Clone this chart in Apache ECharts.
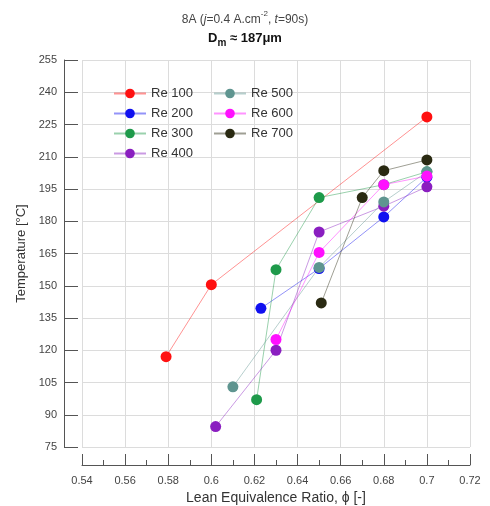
<!DOCTYPE html>
<html>
<head>
<meta charset="utf-8">
<script src="https://cdn.jsdelivr.net/npm/echarts@6/dist/echarts.min.js"></script>
<style>html,body{margin:0;padding:0;background:#fff;}#c{width:490px;height:506px;}</style>
</head>
<body>
<div id="c"></div>
<script>
// ---- data ----
const seriesNames = ['Re 100', 'Re 200', 'Re 300', 'Re 400', 'Re 500', 'Re 600', 'Re 700'];
const phi100 = [0.579, 0.600, 0.700];
const T100   = [117, 150.5, 228.5];
const phi200 = [0.623, 0.650, 0.680, 0.700];
const T200   = [139.5, 158, 182, 200.5];
const phi300 = [0.621, 0.630, 0.650, 0.680, 0.700];
const T300   = [97, 157.5, 191, 197, 203];
const phi400 = [0.602, 0.630, 0.650, 0.680, 0.700];
const T400   = [84.5, 120, 175, 187, 196];
const phi500 = [0.610, 0.650, 0.680, 0.700];
const T500   = [103, 158.5, 189, 203];
const phi600 = [0.630, 0.650, 0.680, 0.700];
const T600   = [125, 165.5, 197, 201];
const phi700 = [0.651, 0.670, 0.680, 0.700];
const T700   = [142, 191, 203.5, 208.5];
const xTicks = [0.54, 0.56, 0.58, 0.6, 0.62, 0.64, 0.66, 0.68, 0.7, 0.72];
const yTicks = [75, 90, 105, 120, 135, 150, 165, 180, 195, 210, 225, 240, 255];

const colors = ['#ff1010', '#1010f0', '#1e9a4a', '#8a1ec0', '#5f9590', '#ff10ff', '#2a2a12'];
const phis = [phi100, phi200, phi300, phi400, phi500, phi600, phi700];
const temps = [T100, T200, T300, T400, T500, T600, T700];

const FONT = 'Liberation Sans, Arial, sans-serif';
const chart = echarts.init(document.getElementById('c'));
const series = seriesNames.map((n, i) => ({
  name: n,
  type: 'line',
  symbol: 'circle',
  symbolSize: 11,
  data: phis[i].map((x, k) => [x, temps[i][k]]),
  itemStyle: { color: colors[i] },
  lineStyle: { width: 1, opacity: 0.45, color: colors[i] },
  emphasis: { disabled: true },
  animation: false
}));

const legendCommon = {
  orient: 'vertical',
  top: 82,
  itemWidth: 32,
  itemHeight: 12,
  itemGap: 7,
  textStyle: { fontSize: 13, color: '#333', fontFamily: FONT }
};

chart.setOption({
  backgroundColor: '#fff',
  animation: false,
  title: {
    left: 'center',
    top: 5,
    text: '{n|8A (}{i|j}{n|=0.4 A.cm}{sup|-2}{n|, }{i|t}{n|=90s)}\n{b|D}{bs|m}{b| \u2248 187\u03bcm}',
    textStyle: {
      fontWeight: 'normal',
      rich: {
        n: { fontSize: 12, color: '#444', fontWeight: 'normal', fontFamily: FONT, lineHeight: 19 },
        i: { fontSize: 12, color: '#444', fontWeight: 'normal', fontStyle: 'italic', fontFamily: FONT, lineHeight: 19 },
        sup: { fontSize: 8, color: '#444', fontWeight: 'normal', fontFamily: FONT, verticalAlign: 'top', lineHeight: 19 },
        b: { fontSize: 13, color: '#111', fontWeight: 'bold', fontFamily: FONT, lineHeight: 19 },
        bs: { fontSize: 10, color: '#111', fontWeight: 'bold', fontFamily: FONT, verticalAlign: 'bottom', lineHeight: 19, padding: [4, 0, 0, 0] }
      }
    }
  },
  legend: [
    Object.assign({ left: 108, data: seriesNames.slice(0, 4) }, legendCommon),
    Object.assign({ left: 208, data: seriesNames.slice(4) }, legendCommon)
  ],
  grid: { left: 82, right: 20, top: 60, bottom: 59, containLabel: false, outerBoundsMode: 'none' },
  xAxis: {
    type: 'value',
    min: xTicks[0],
    max: xTicks[xTicks.length - 1],
    interval: 0.02,
    offset: 18,
    name: 'Lean Equivalence Ratio, \u03d5 [-]',
    nameLocation: 'middle',
    nameGap: 26,
    nameTextStyle: { fontSize: 14, color: '#333', fontFamily: FONT },
    axisLine: { show: true, lineStyle: { color: '#555', width: 1 } },
    axisTick: { show: true, inside: true, length: 11, lineStyle: { color: '#555' } },
    minorTick: { show: true, splitNumber: 2, length: 5, lineStyle: { color: '#555' } },
    splitLine: { show: true, lineStyle: { color: '#dcdcdc', width: 1 } },
    axisLabel: { fontSize: 11, color: '#444', margin: 10, fontFamily: FONT,
      formatter: v => String(+(+v).toFixed(2)) }
  },
  yAxis: {
    type: 'value',
    min: yTicks[0],
    max: yTicks[yTicks.length - 1],
    interval: 15,
    offset: 18,
    name: 'Temperature [\u00b0C]',
    nameLocation: 'middle',
    nameGap: 35,
    nameTextStyle: { fontSize: 13, color: '#333', fontFamily: FONT },
    axisLine: { show: true, lineStyle: { color: '#555', width: 1 } },
    axisTick: { show: true, inside: true, length: 14, lineStyle: { color: '#555' } },
    splitLine: { show: true, lineStyle: { color: '#dcdcdc', width: 1 } },
    axisLabel: { fontSize: 11, color: '#444', margin: 7, fontFamily: FONT }
  },
  series: series
});
</script>
</body>
</html>
